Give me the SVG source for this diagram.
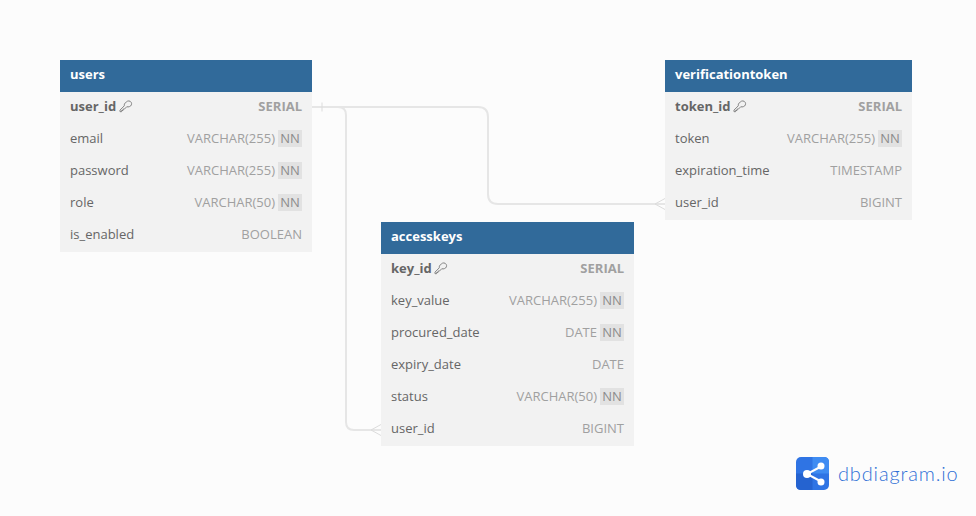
<svg xmlns="http://www.w3.org/2000/svg" width="976" height="516" viewBox="0 0 976 516">
<style>
text{font-family:"Open Sans","Noto Sans",sans-serif;font-size:13px;fill:#666}
.head{fill:#316a9a}.body{fill:#f2f2f2}
.title{font-weight:700;fill:#fff}
.pk{font-weight:700;fill:#666}
.type{fill:#a0a0a0;text-anchor:end}
.tpk{fill:#a0a0a0;font-weight:700;text-anchor:end}
.nnb{fill:#e2e2e2}
.nn{fill:#8c8c8c;text-anchor:middle}
.conn{fill:none;stroke:#e6e6e6;stroke-width:2}
.thin{fill:none;stroke:#dcdcdc;stroke-width:1}
.key{fill:none;stroke:#777;stroke-width:.9}
</style>
<defs>
<g id="key"><path d="M1.500-4.600A2.900 2.900 0 1 1 4.500 .1C3.500 .6 2.500 .5 1.800 .2L-.6 2.600H-2V4H-3.400V5.200H-5V3.600L-.7-.7C-1-1.800-.5-3.500 1.500-4.600Z" class="key"/></g>
</defs>
<rect width="976" height="516" fill="#fcfcfc"/>
<g id="connectors">
<path class="conn" d="M312 107H338Q346 107 346 115V422Q346 430 354 430H381"/>
<path class="conn" d="M312 107H478Q488 107 488 117V194Q488 204 498 204H665"/>
<path class="thin" d="M322 102.500V111.500"/>
<path class="thin" d="M381 424.500 371 430 381 435.500"/>
<path class="thin" d="M665 198.500 655 204 665 209.500"/>
</g>
<g id="users">
<rect class="head" x="60" y="60" width="252" height="32"/>
<rect class="body" x="60" y="92" width="252" height="160"/>
<text class="title" x="70" y="79">users</text>
<text class="pk" x="70" y="111">user_id</text><use href="#key" x="125" y="106.500"/><text class="tpk" x="302" y="111">SERIAL</text>
<text x="70" y="143">email</text><text class="type" x="275" y="143">VARCHAR(255)</text><rect class="nnb" x="278" y="130" width="24" height="17"/><text class="nn" x="290" y="143">NN</text>
<text x="70" y="175">password</text><text class="type" x="275" y="175">VARCHAR(255)</text><rect class="nnb" x="278" y="162" width="24" height="17"/><text class="nn" x="290" y="175">NN</text>
<text x="70" y="207">role</text><text class="type" x="275" y="207">VARCHAR(50)</text><rect class="nnb" x="278" y="194" width="24" height="17"/><text class="nn" x="290" y="207">NN</text>
<text x="70" y="239">is_enabled</text><text class="type" x="302" y="239">BOOLEAN</text>
</g>
<g id="verificationtoken">
<rect class="head" x="665" y="60" width="247" height="32"/>
<rect class="body" x="665" y="92" width="247" height="128"/>
<text class="title" x="675" y="79">verificationtoken</text>
<text class="pk" x="675" y="111">token_id</text><use href="#key" x="739" y="106.500"/><text class="tpk" x="902" y="111">SERIAL</text>
<text x="675" y="143">token</text><text class="type" x="875" y="143">VARCHAR(255)</text><rect class="nnb" x="878" y="130" width="24" height="17"/><text class="nn" x="890" y="143">NN</text>
<text x="675" y="175">expiration_time</text><text class="type" x="902" y="175">TIMESTAMP</text>
<text x="675" y="207">user_id</text><text class="type" x="902" y="207">BIGINT</text>
</g>
<g id="accesskeys">
<rect class="head" x="381" y="222" width="253" height="32"/>
<rect class="body" x="381" y="254" width="253" height="192"/>
<text class="title" x="391" y="241">accesskeys</text>
<text class="pk" x="391" y="273">key_id</text><use href="#key" x="440" y="268.500"/><text class="tpk" x="624" y="273">SERIAL</text>
<text x="391" y="305">key_value</text><text class="type" x="597" y="305">VARCHAR(255)</text><rect class="nnb" x="600" y="292" width="24" height="17"/><text class="nn" x="612" y="305">NN</text>
<text x="391" y="337">procured_date</text><text class="type" x="597" y="337">DATE</text><rect class="nnb" x="600" y="324" width="24" height="17"/><text class="nn" x="612" y="337">NN</text>
<text x="391" y="369">expiry_date</text><text class="type" x="624" y="369">DATE</text>
<text x="391" y="401">status</text><text class="type" x="597" y="401">VARCHAR(50)</text><rect class="nnb" x="600" y="388" width="24" height="17"/><text class="nn" x="612" y="401">NN</text>
<text x="391" y="433">user_id</text><text class="type" x="624" y="433">BIGINT</text>
</g>
<g id="logo">
<rect x="796" y="457" width="33" height="33" rx="5" fill="#2f74e4"/>
<path d="M812.500 457H824Q829 457 829 462V473.500H812.500Z" fill="#3f8cf2"/>
<path d="M796 473.500H812.500V490H801Q796 490 796 485Z" fill="#2563d0"/>
<path d="M822 466 807 474 822 482" fill="none" stroke="#fff" stroke-width="2"/>
<circle cx="807" cy="474" r="4" fill="#fff"/><circle cx="821" cy="466" r="3.500" fill="#fff"/><circle cx="821" cy="482" r="3.500" fill="#fff"/>
<text x="838" y="481" style="font-family:Lato,sans-serif;font-size:20px;font-weight:300;fill:#2f6fd6;letter-spacing:.85px">dbdiagram.io</text>
</g>
</svg>
